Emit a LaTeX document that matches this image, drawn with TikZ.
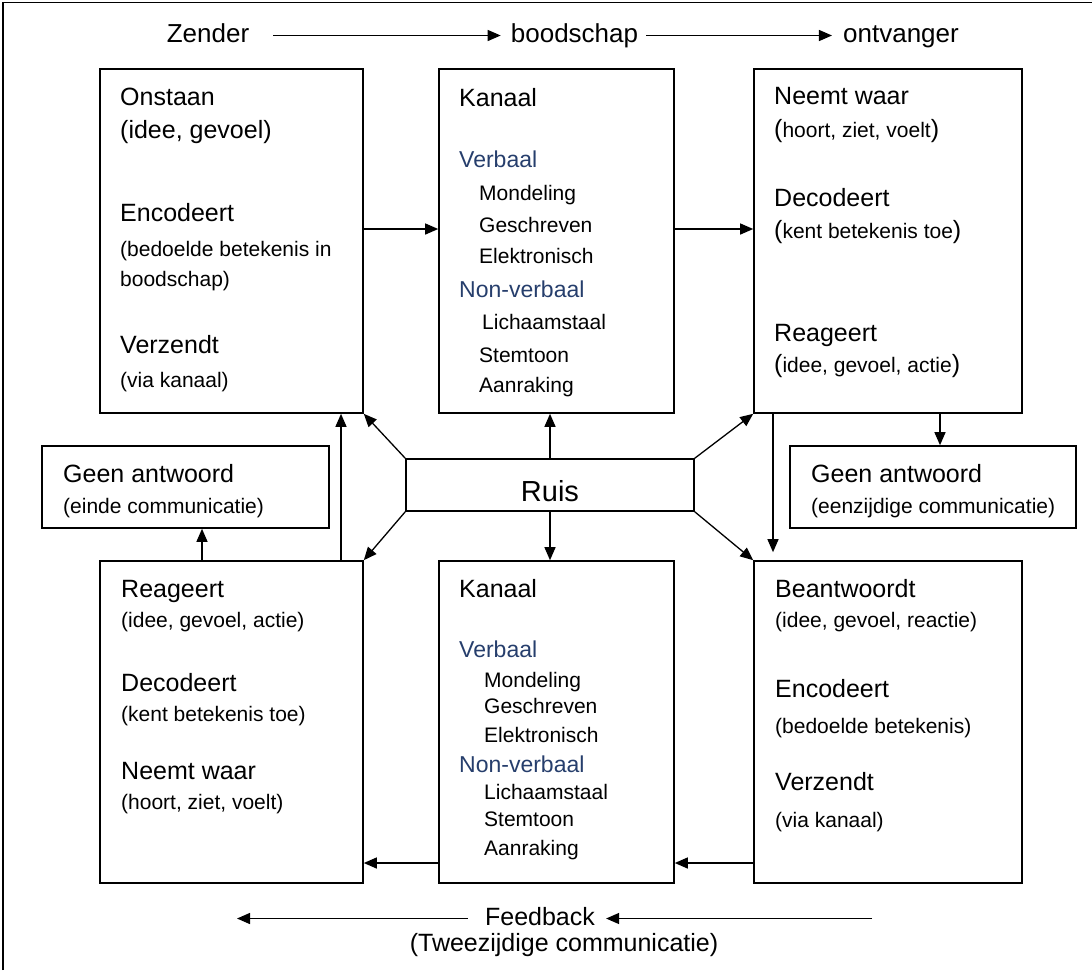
\documentclass[tikz,border=0pt]{standalone}
\usepackage{fontspec}
\setmainfont{Liberation Sans}
\usetikzlibrary{arrows.meta}
\definecolor{kanaalblue}{RGB}{38,62,108}
\newcommand\fntbig{\fontsize{25}{30}\selectfont}
\newcommand\fntsmall{\fontsize{21}{30}\selectfont}
\newcommand\fntblue{\fontsize{23}{30}\selectfont\color{kanaalblue}}
\newcommand\fntsub{\fontsize{21}{30}\selectfont}
\newcommand\bigparen[1]{{\fntbig(}#1{\fntbig)}}
\begin{document}
\begin{tikzpicture}[x=1pt, y=-1pt,
  stage/.style={draw, line width=1.6pt, inner sep=0pt},
  lines/.style={anchor=north west, inner sep=0pt, align=left, font=\fntbig},
  toptext/.style={anchor=base, inner sep=0pt, text height=18pt, text depth=5pt,
                  font=\fontsize{26}{30}\selectfont},
  flow/.style={line width=1.3pt, -{Triangle[length=13pt,width=11pt]}}]
  \useasboundingbox (0,0) rectangle (1092,970);
  \draw[line width=1.5pt] (3,970) -- (3,2.5) -- (1092,2.5);

  \node[toptext] (zender) at (208,42) {Zender};
  \node[toptext] (boodschap) at (574.5,42) {boodschap};
  \node[toptext] (ontvanger) at (901,42) {ontvanger};
  \draw[flow, shorten <=24pt, shorten >=10pt] (zender) -- (boodschap);
  \draw[flow, shorten <=8pt, shorten >=11pt] (boodschap) -- (ontvanger);

  \node[stage, minimum width=263pt, minimum height=344pt] (tl) at (231.5,241) {};
  \node[stage, minimum width=235pt, minimum height=344pt] (tc) at (556.5,241) {};
  \node[stage, minimum width=268pt, minimum height=344pt] (tr) at (888,241) {};
  \node[stage, minimum width=263pt, minimum height=322pt] (bl) at (231.5,722) {};
  \node[stage, minimum width=235pt, minimum height=322pt] (bc) at (556.5,722) {};
  \node[stage, minimum width=268pt, minimum height=322pt] (br) at (888,722) {};
  \node[stage, minimum width=287pt, minimum height=82pt] (gal) at (185.5,487) {};
  \node[stage, minimum width=286pt, minimum height=82pt] (gar) at (933,487) {};
  \node[stage, minimum width=288pt, minimum height=52pt, text height=33pt, text depth=1pt,
        font=\fontsize{29}{30}\selectfont] (ruis) at (550,485) {Ruis};

  \node[lines] (tltext) at (120,88) {Onstaan\\[3pt]
    (idee, gevoel)\\[53pt]
    Encodeert\\[5pt]
    {\fntsmall (bedoelde betekenis in}\\
    {\fntsmall boodschap)}\\[37pt]
    Verzendt\\[4pt]
    {\fntsmall (via kanaal)}};
  \node[lines] (tctext) at (459,88) {Kanaal\\[31pt]
    {\fntblue Verbaal}\\[3pt]
    {\fntsub\hspace*{20pt}Mondeling}\\[2pt]
    {\fntsub\hspace*{20pt}Geschreven}\\[1pt]
    {\fntsub\hspace*{20pt}Elektronisch}\\[4pt]
    {\fntblue Non-verbaal}\\[2pt]
    {\fntsub\hspace*{23pt}Lichaamstaal}\\[3pt]
    {\fntsub\hspace*{20pt}Stemtoon}\\
    {\fntsub\hspace*{20pt}Aanraking}};
  \node[lines] (trtext) at (774,87) {Neemt waar\\[3pt]
    {\fntsmall\bigparen{hoort, ziet, voelt}}\\[39pt]
    Decodeert\\[2pt]
    {\fntsmall\bigparen{kent betekenis toe}}\\[73pt]
    Reageert\\[1pt]
    {\fntsmall\bigparen{idee, gevoel, actie}}};
  \node[lines] (bltext) at (121,580) {Reageert\\
    {\fntsmall (idee, gevoel, actie)}\\[34pt]
    Decodeert\\
    {\fntsmall (kent betekenis toe)}\\[28pt]
    Neemt waar\\
    {\fntsmall (hoort, ziet, voelt)}};
  \node[lines] (bctext) at (459,579) {Kanaal\\[30pt]
    {\fntblue Verbaal}\\
    {\fntsub\hspace*{25pt}Mondeling}\\[-4pt]
    {\fntsub\hspace*{25pt}Geschreven}\\[-1pt]
    {\fntsub\hspace*{25pt}Elektronisch}\\
    {\fntblue Non-verbaal}\\[-3pt]
    {\fntsub\hspace*{25pt}Lichaamstaal}\\[-3pt]
    {\fntsub\hspace*{25pt}Stemtoon}\\[-1pt]
    {\fntsub\hspace*{25pt}Aanraking}};
  \node[lines] (brtext) at (775,579) {Beantwoordt\\
    {\fntsmall (idee, gevoel, reactie)}\\[40pt]
    Encodeert\\[6pt]
    {\fntsmall (bedoelde betekenis)}\\[27pt]
    Verzendt\\[7pt]
    {\fntsmall (via kanaal)}};
  \node[lines] (galtext) at (63,464) {Geen antwoord\\[1pt]
    {\fntsmall (einde communicatie)}};
  \node[lines] (gartext) at (811,464) {Geen antwoord\\[1pt]
    {\fntsmall (eenzijdige communicatie)}};

  \draw[flow] ([yshift=12pt]tl.east) -- ([yshift=12pt]tc.west);
  \draw[flow] ([yshift=12pt]tc.east) -- ([yshift=12pt]tr.west);
  \draw[flow] (ruis.north west) -- (tl.south east);
  \draw[flow] (ruis.north) -- (ruis.north |- tc.south);
  \draw[flow] (ruis.north east) -- (tr.south west);
  \draw[flow] (ruis.south west) -- (bl.north east);
  \draw[flow] (ruis.south) -- (ruis.south |- bc.north);
  \draw[flow] (ruis.south east) -- (br.north west);
  \draw[flow] ([xshift=109.5pt]bl.north) -- ([xshift=109.5pt]tl.south);
  \draw[flow] ([xshift=16.5pt]gal.south |- bl.north) -- ([xshift=16.5pt]gal.south);
  \draw[flow] ([xshift=52pt]tr.south) -- ([xshift=7pt]gar.north);
  \draw[flow, shorten >=8pt] ([xshift=-115pt]tr.south) -- ([xshift=-115pt]br.north);
  \draw[flow] ([yshift=-141pt]br.west) -- ([yshift=-141pt]bc.east);
  \draw[flow] ([yshift=-141pt]bc.west) -- ([yshift=-141pt]bl.east);

  \node[toptext, font=\fontsize{25}{30}\selectfont] (feedback) at (540,925) {Feedback};
  \node[toptext, font=\fontsize{25}{30}\selectfont] (tweezijdig) at (564,951)
       {(Tweezijdige communicatie)};
  \coordinate (fbstart) at (872,918.5);
  \coordinate (fbend) at (237,918.5);
  \draw[flow, shorten >=11pt] (fbstart) -- (feedback.east);
  \draw[flow, shorten <=17pt] (feedback.west) -- (fbend);
\end{tikzpicture}
\end{document}
